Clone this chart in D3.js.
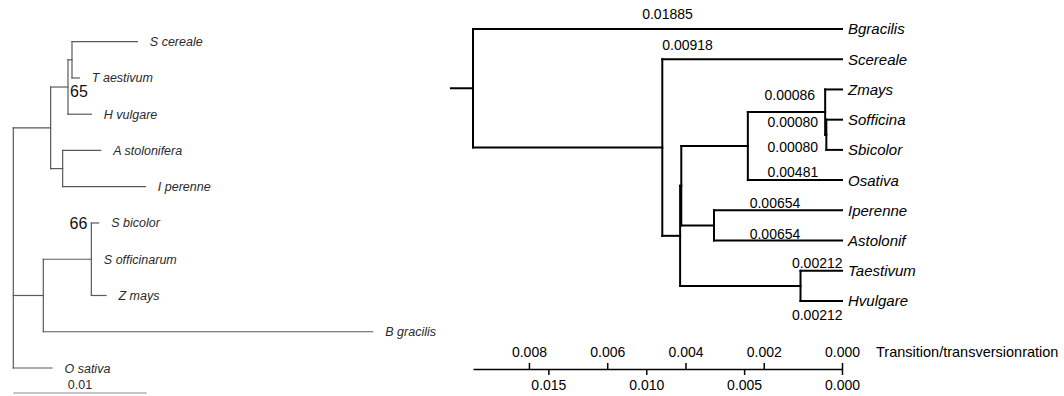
<!DOCTYPE html>
<html>
<head>
<meta charset="utf-8">
<script src="https://cdn.jsdelivr.net/npm/d3@7"></script>
<style>
  body { margin: 0; background: #fff; }
  svg { display: block; font-family: "Liberation Sans", Arial, Helvetica, sans-serif; }
</style>
</head>
<body>
<script>
// left panel: scanned NJ tree (branch lengths, bootstrap as internal names)
const leftNewick = '((((S cereale:0.0049,T aestivum:0.00055):0.0003,H vulgare:0.00175)65:0.0013,' +
  '(A stolonifera:0.00285,I perenne:0.0062):0.0009):0.0028,' +
  '((S bicolor:0.00055,S officinarum:0,Z mays:0.0011)66:0.0036,B gracilis:0.0247):0.00225,' +
  'O sativa:0.0029);';
const leftScaleBar = 0.01;

// right panel: ultrametric tree, root stub length at the end
const rightNewick = '(Bgracilis:0.01885,(Scereale:0.00918,((((Zmays:0.00086,(Sofficina:0.0008,Sbicolor:0.0008):0.00006):0.00395,' +
  'Osativa:0.00481):0.0034,(Iperenne:0.00654,Astolonif:0.00654):0.00167):0.00006,' +
  '(Taestivum:0.00212,Hvulgare:0.00212):0.00615):0.00091):0.00967):0.00118;';
const bottomTicks = [0.015, 0.010, 0.005, 0.000];
const topTicks = [0.008, 0.006, 0.004, 0.002, 0.000];
const topAxisMax = 0.00943;
const topAxisTitle = 'Transition/transversionration';

function parseNewick(s) {
  const stack = [];
  let node = {};
  const tokens = s.split(/\s*(;|\(|\)|,|:)\s*/);
  for (let i = 0; i < tokens.length; i++) {
    const t = tokens[i];
    const prev = tokens[i - 1];
    if (t === '(') {
      const child = {};
      node.branchset = [child];
      stack.push(node);
      node = child;
    } else if (t === ',') {
      const child = {};
      stack[stack.length - 1].branchset.push(child);
      node = child;
    } else if (t === ')') {
      node = stack.pop();
    } else if (t === ':' || t === ';' || t === '') {
      // nothing
    } else if (prev === ':') {
      node.length = parseFloat(t);
    } else {
      node.name = t;
    }
  }
  return node;
}

function layout(newick, leafRange) {
  const root = d3.hierarchy(parseNewick(newick), d => d.branchset);
  root.each(d => { d.dist = d.parent ? d.parent.dist + (d.data.length || 0) : 0; });
  const y = d3.scalePoint().domain(root.leaves().map(d => d.data.name)).range(leafRange);
  root.eachAfter((d) => {
    d.y = d.children ? (d.children[0].y + d.children[d.children.length - 1].y) / 2 : y(d.data.name);
  });
  return root;
}

function drawTree(g, root, x, stroke, width) {
  const nodes = root.descendants();
  g.append('g')
    .selectAll('line')
    .data(nodes.filter(d => d.parent))
    .join('line')
    .attr('x1', d => x(d.parent.dist))
    .attr('x2', d => x(d.dist))
    .attr('y1', d => d.y)
    .attr('y2', d => d.y);
  g.append('g')
    .selectAll('line')
    .data(nodes.filter(d => d.children))
    .join('line')
    .attr('x1', d => x(d.dist))
    .attr('x2', d => x(d.dist))
    .attr('y1', d => d.children[0].y)
    .attr('y2', d => d.children[d.children.length - 1].y);
  g.selectAll('line')
    .attr('stroke', stroke)
    .attr('stroke-width', width)
    .attr('stroke-linecap', 'square');
}

const svg = d3.select('body').append('svg').attr('width', 1064).attr('height', 396);

// ---------- left tree ----------
const leftRoot = layout(leftNewick, [41.7, 368]);
const xL = d3.scaleLinear().domain([0, 0.01]).range([13.3, 146.7]);
const gL = svg.append('g');
drawTree(gL, leftRoot, xL, '#5a5a5a', 1.2);

gL.append('g')
  .selectAll('text')
  .data(leftRoot.leaves())
  .join('text')
  .attr('x', d => xL(d.dist) + 12.5)
  .attr('y', d => d.y)
  .attr('dy', '0.36em')
  .attr('font-size', 12.5)
  .attr('font-style', 'italic')
  .attr('fill', '#2a2a2a')
  .text(d => d.data.name);

// bootstrap values: 65 sits right of its node, 66 left of its top child
const supportPlace = {
  65: (d) => ({ x: xL(d.dist) + 2, y: d.y + 10, anchor: 'start' }),
  66: (d) => ({ x: xL(d.dist) - 4, y: d.children[0].y + 6, anchor: 'end' }),
};
gL.append('g')
  .selectAll('text')
  .data(leftRoot.descendants().filter(d => d.children && d.data.name))
  .join('text')
  .each(function place(d) {
    const p = supportPlace[d.data.name](d);
    d3.select(this).attr('x', p.x).attr('y', p.y).attr('text-anchor', p.anchor);
  })
  .attr('font-size', 16)
  .attr('fill', '#111')
  .text(d => d.data.name);

gL.append('line')
  .attr('x1', xL(0))
  .attr('x2', xL(leftScaleBar))
  .attr('y1', 393)
  .attr('y2', 393)
  .attr('stroke', '#8a8a8a')
  .attr('stroke-width', 1);
gL.append('text')
  .attr('x', (xL(0) + xL(leftScaleBar)) / 2)
  .attr('y', 388.5)
  .attr('text-anchor', 'middle')
  .attr('font-size', 12.5)
  .attr('fill', '#2a2a2a')
  .text(String(leftScaleBar));

// ---------- right tree ----------
const rightRoot = layout(rightNewick, [29, 301]);
const rootHeight = d3.max(rightRoot.leaves(), d => d.dist);
const xR = d3.scaleLinear().domain([0, rootHeight]).range([473, 842]);
const gR = svg.append('g');
drawTree(gR, rightRoot, xR, '#000', 2);
gR.append('line')
  .attr('x1', xR(-rightRoot.data.length))
  .attr('x2', xR(0))
  .attr('y1', rightRoot.y)
  .attr('y2', rightRoot.y)
  .attr('stroke', '#000')
  .attr('stroke-width', 2);

gR.append('g')
  .selectAll('text')
  .data(rightRoot.leaves())
  .join('text')
  .attr('x', d => xR(d.dist) + 6)
  .attr('y', d => d.y)
  .attr('dy', '0.36em')
  .attr('font-size', 15)
  .attr('font-style', 'italic')
  .attr('fill', '#000')
  .text(d => d.data.name);

// branch-length labels: [anchor, reference, dx, dy]
const branchLabelPlace = {
  Bgracilis: ['middle', 'mid', 10, -10],
  Scereale: ['start', 'parent', 0, -9],
  Zmays: ['end', 'parent', -10, 11],
  Sofficina: ['end', 'grandparent', -7, 7],
  Sbicolor: ['end', 'grandparent', -7, 2],
  Osativa: ['middle', 'mid', -2, -3],
  Iperenne: ['middle', 'mid', -3, -2],
  Astolonif: ['middle', 'mid', -3, -2],
  Taestivum: ['middle', 'mid', -4, -3],
  Hvulgare: ['middle', 'mid', -4, 19],
};
gR.append('g')
  .selectAll('text')
  .data(rightRoot.leaves())
  .join('text')
  .each(function place(d) {
    const [anchor, ref, dx, dy] = branchLabelPlace[d.data.name];
    let x0;
    if (ref === 'mid') x0 = (xR(d.parent.dist) + xR(d.dist)) / 2;
    else if (ref === 'parent') x0 = xR(d.parent.dist);
    else x0 = xR(d.parent.parent.dist);
    d3.select(this).attr('x', x0 + dx).attr('y', d.y + dy).attr('text-anchor', anchor);
  })
  .attr('font-size', 14)
  .attr('fill', '#000')
  .text(d => d.data.length.toFixed(5));

// axes under the right tree
const axisY = 369;
const hx = d3.scaleLinear().domain([rootHeight, 0]).range([xR(0), xR(rootHeight)]);
const tx = d3.scaleLinear().domain([topAxisMax, 0]).range([xR(0), xR(rootHeight)]);

svg.append('g')
  .attr('transform', `translate(0,${axisY})`)
  .call(d3.axisBottom(hx).tickValues(bottomTicks).tickFormat(d3.format('.3f')).tickSize(6).tickSizeOuter(0).tickPadding(5));
const topAxis = svg.append('g')
  .attr('transform', `translate(0,${axisY})`)
  .call(d3.axisTop(tx).tickValues(topTicks).tickFormat(d3.format('.3f')).tickSize(6).tickSizeOuter(0).tickPadding(6));
topAxis.select('.domain').remove();
svg.selectAll('.tick text').attr('font-size', 14).attr('font-family', null).attr('fill', '#000');
svg.selectAll('.tick line, .domain').attr('stroke', '#000').attr('stroke-width', 1.5);

svg.append('text')
  .attr('x', 876)
  .attr('y', axisY - 12)
  .attr('font-size', 14.5)
  .attr('fill', '#000')
  .text(topAxisTitle);
</script>
</body>
</html>
